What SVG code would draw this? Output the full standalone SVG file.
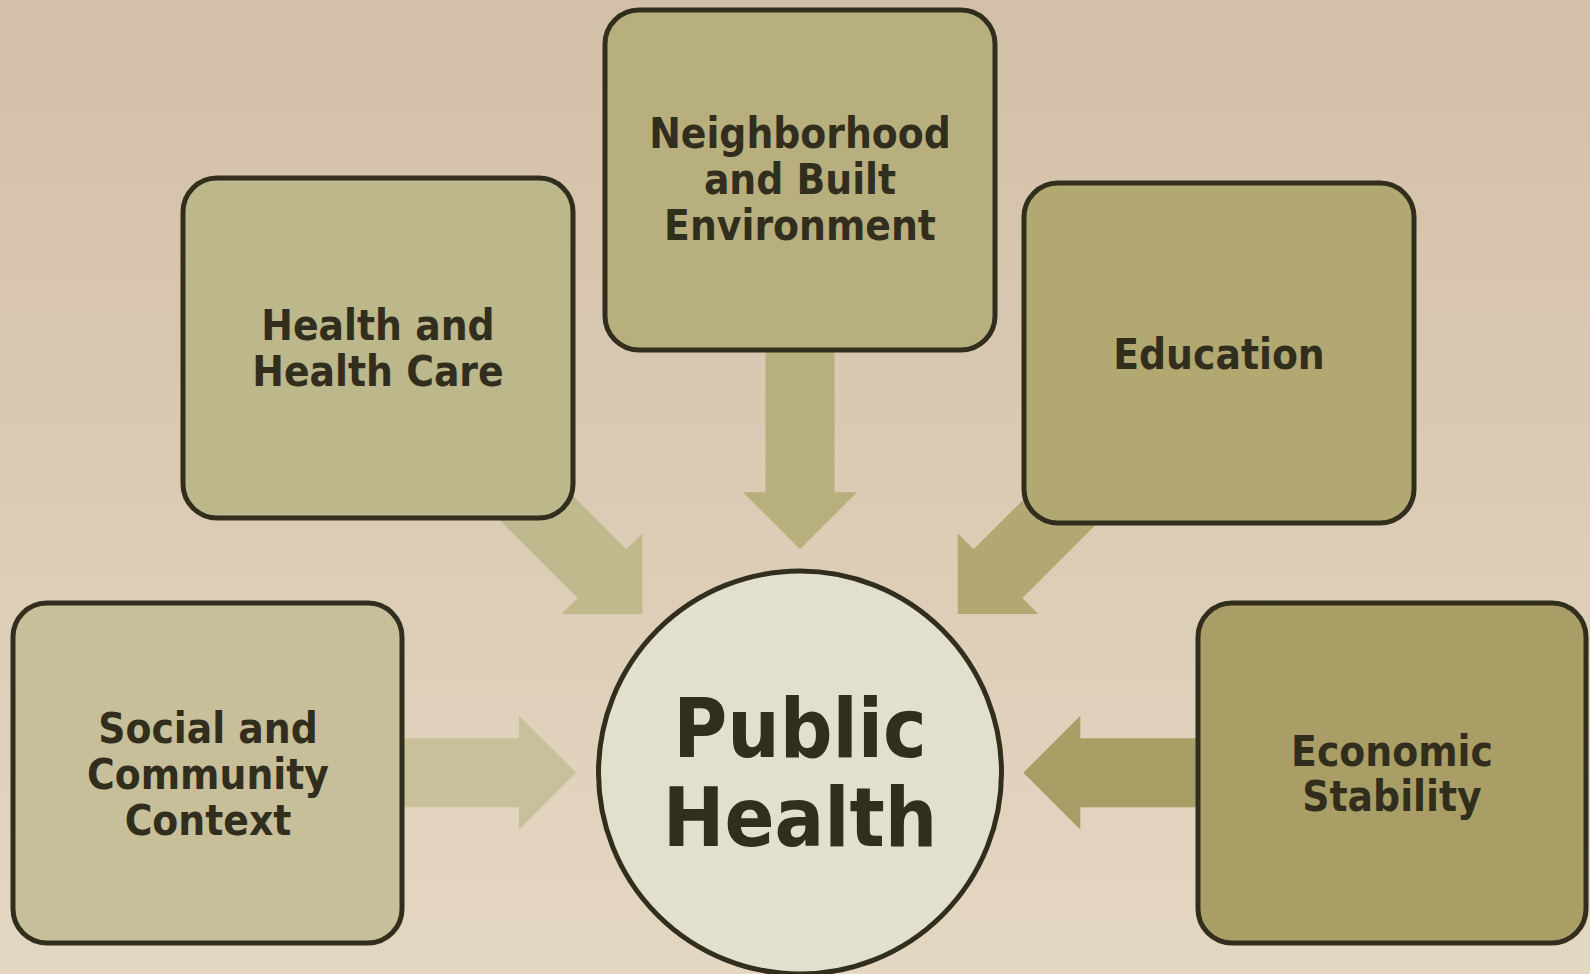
<svg xmlns="http://www.w3.org/2000/svg" width="1590" height="974" viewBox="0 0 1590 974">
  <defs>
    <linearGradient id="bg" x1="0" y1="0" x2="0" y2="1">
      <stop offset="0" stop-color="#d2bfa7"/>
      <stop offset="1" stop-color="#e4d7c2"/>
    </linearGradient>
    <path id="arrow" d="M -210,-34.5 H -57 V -57 L 0,0 L -57,57 V 34.5 H -210 Z"/>
  </defs>
  <style>
    .box { stroke: #322e1d; stroke-width: 5; }
    .lbl { font-family: "DejaVu Sans Condensed", "DejaVu Sans", sans-serif; font-weight: bold; font-size: 42px; fill: #322e1d; text-anchor: middle; }
    .big { font-size: 82px; }
  </style>
  <rect x="0" y="0" width="1590" height="974" fill="url(#bg)"/>

  <g id="connectors">
    <use href="#arrow" transform="translate(800,549.3) rotate(90)" fill="#b7b07e"/>
    <use href="#arrow" transform="translate(642.3,614) rotate(45)" fill="#bfb98d"/>
    <use href="#arrow" transform="translate(957.7,614) rotate(135)" fill="#b1a872"/>
    <use href="#arrow" transform="translate(576,772.7)" fill="#c8c09a"/>
    <use href="#arrow" transform="translate(1023.3,772.7) rotate(180)" fill="#a99e65"/>
  </g>

  <g id="node-neighborhood">
    <rect class="box" x="605" y="10" width="390" height="340" rx="34" fill="#b7b07e"/>
    <text class="lbl" x="800" y="148">Neighborhood</text>
    <text class="lbl" x="800" y="194">and Built</text>
    <text class="lbl" x="800" y="240">Environment</text>
  </g>

  <g id="node-health-care">
    <rect class="box" x="183" y="178" width="390" height="340" rx="34" fill="#bdb78c"/>
    <text class="lbl" x="378" y="340">Health and</text>
    <text class="lbl" x="378" y="386">Health Care</text>
  </g>

  <g id="node-education">
    <rect class="box" x="1024" y="183" width="390" height="340" rx="34" fill="#b1a872"/>
    <text class="lbl" x="1219" y="368.5">Education</text>
  </g>

  <g id="node-social">
    <rect class="box" x="13" y="603" width="389" height="340" rx="34" fill="#c7bf99"/>
    <text class="lbl" x="208" y="743">Social and</text>
    <text class="lbl" x="208" y="789">Community</text>
    <text class="lbl" x="208" y="834.5">Context</text>
  </g>

  <g id="node-economic">
    <rect class="box" x="1198" y="603" width="388" height="340" rx="34" fill="#a99e65"/>
    <text class="lbl" x="1392" y="765.5">Economic</text>
    <text class="lbl" x="1392" y="811">Stability</text>
  </g>

  <g id="node-public-health">
    <circle class="box" cx="800" cy="772.5" r="201.5" fill="#e2dfcc"/>
    <text class="lbl big" x="800" y="756.7">Public</text>
    <text class="lbl big" x="800" y="846">Health</text>
  </g>
</svg>
